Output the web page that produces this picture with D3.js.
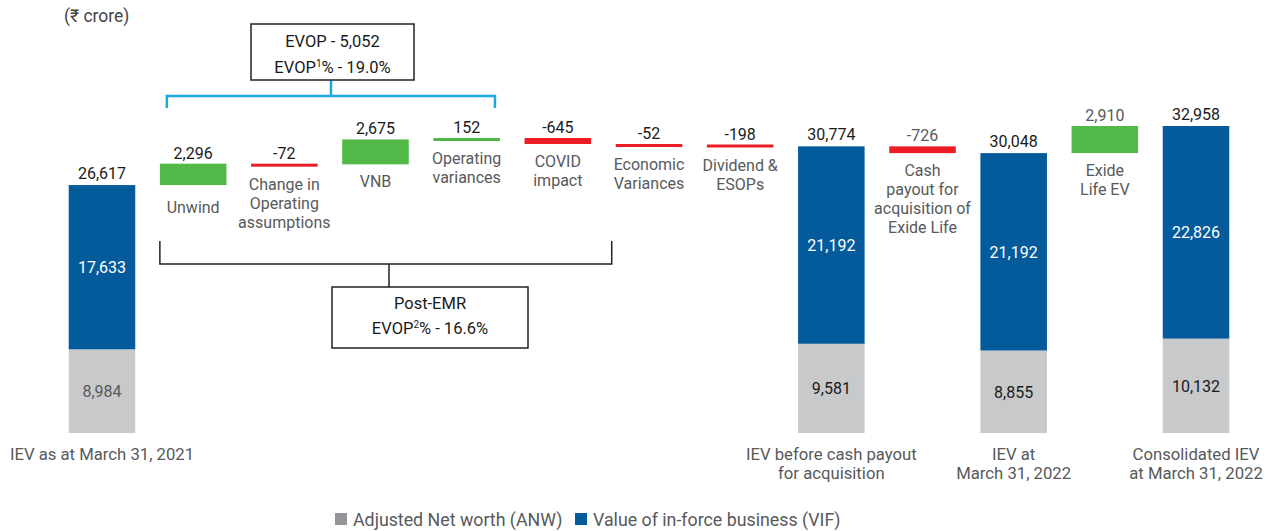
<!DOCTYPE html>
<html>
<head>
<meta charset="utf-8">
<script src="https://cdn.jsdelivr.net/npm/d3@7"></script>
<style>
  html, body { margin: 0; padding: 0; background: #fff; }
  svg { display: block; font-family: Roboto, "Noto Sans", "DejaVu Sans", sans-serif; }
</style>
</head>
<body>
<svg id="chart" width="1274" height="531"></svg>
<script>
// Embedded value walk, ₹ crore
const categories = [
  "IEV as at March 31, 2021", "Unwind", "Change in Operating assumptions", "VNB",
  "Operating variances", "COVID impact", "Economic Variances", "Dividend & ESOPs",
  "IEV before cash payout for acquisition", "Cash payout for acquisition of Exide Life",
  "IEV at March 31, 2022", "Exide Life EV", "Consolidated IEV at March 31, 2022"
];
const labelLines = [
  ["IEV as at March 31, 2021"], ["Unwind"], ["Change in", "Operating", "assumptions"], ["VNB"],
  ["Operating", "variances"], ["COVID", "impact"], ["Economic", "Variances"], ["Dividend &", "ESOPs"],
  ["IEV before cash payout", "for acquisition"], ["Cash", "payout for", "acquisition of", "Exide Life"],
  ["IEV at", "March 31, 2022"], ["Exide", "Life EV"], ["Consolidated IEV", "at March 31, 2022"]
];
// null = total column, number = movement
const changes = [null, 2296, -72, 2675, 152, -645, -52, -198, null, -726, null, 2910, null];
const totalValues = [26617, 30774, 30048, 32958];
const anwValues = [8984, 9581, 8855, 10132];
const vifValues = [17633, 21192, 21192, 22826];
const legendLabels = ["Adjusted Net worth (ANW)", "Value of in-force business (VIF)"];

const C = {
  vif: "#045b9b", anw: "#c8c9cb", up: "#52b848", down: "#ec1c24",
  text: "#1a1a1a", grey: "#58595b", blueBracket: "#1ba9e1", legendAnw: "#939598"
};

const svg = d3.select("#chart");
const x = d3.scaleBand().domain(categories).range([56.4, 1241.6]).paddingInner(0.27).paddingOuter(0.135);
const y = d3.scaleLinear().domain([0, 32958]).range([433, 126]);
const bw = x.bandwidth();

// Build the waterfall steps
let running = 0, ti = 0;
const steps = categories.map((cat, i) => {
  if (changes[i] === null) {
    const t = totalValues[ti], a = anwValues[ti], v = vifValues[ti];
    running = t;
    ti++;
    return { cat, i, total: true, value: t, anw: a, vif: v, tIndex: ti - 1 };
  }
  const start = running, end = running + changes[i];
  running = end;
  return { cat, i, total: false, start, end, change: changes[i] };
});

const fmt = d3.format(",");
const g = svg.append("g");

// Total columns: ANW at the bottom, VIF stacked on top
const totals = steps.filter(d => d.total);
g.selectAll("rect.anw").data(totals).join("rect")
  .attr("x", d => x(d.cat)).attr("width", bw)
  .attr("y", d => y(d.anw)).attr("height", d => y(0) - y(d.anw))
  .attr("fill", C.anw);
g.selectAll("rect.vif").data(totals).join("rect")
  .attr("x", d => x(d.cat)).attr("width", bw)
  .attr("y", d => y(d.value)).attr("height", d => y(d.anw) - y(d.value))
  .attr("fill", C.vif);

// Values inside segments
g.selectAll("text.vifv").data(totals).join("text")
  .attr("x", d => x(d.cat) + bw / 2).attr("y", d => (y(d.value) + y(d.anw)) / 2 + 6)
  .attr("text-anchor", "middle").attr("font-size", 16).attr("fill", "#fff")
  .text(d => fmt(d.vif));
g.selectAll("text.anwv").data(totals).join("text")
  .attr("x", d => x(d.cat) + bw / 2).attr("y", d => (y(d.anw) + y(0)) / 2 + 6)
  .attr("text-anchor", "middle").attr("font-size", 16)
  .attr("fill", d => d.tIndex === 0 ? C.grey : C.text)
  .text(d => fmt(d.anw));
g.selectAll("text.totv").data(totals).join("text")
  .attr("x", d => x(d.cat) + bw / 2).attr("y", d => y(d.value) - 6)
  .attr("text-anchor", "middle").attr("font-size", 16).attr("fill", C.text)
  .text(d => fmt(d.value));

// Floating movement bars
const moves = steps.filter(d => !d.total);
const minH = 3;
const topOf = d => y(Math.max(d.start, d.end));
const hOf = d => Math.max(Math.abs(y(d.start) - y(d.end)), minH);
g.selectAll("rect.move").data(moves).join("rect")
  .attr("x", d => x(d.cat)).attr("width", bw)
  .attr("y", topOf).attr("height", hOf)
  .attr("fill", d => d.change >= 0 ? C.up : C.down);
g.selectAll("text.movev").data(moves).join("text")
  .attr("x", d => x(d.cat) + bw / 2).attr("y", d => topOf(d) - 5)
  .attr("text-anchor", "middle").attr("font-size", 16)
  .attr("fill", d => d.i >= 9 ? C.grey : C.text)
  .text(d => fmt(d.change).replace("−", "-"));

// Category labels: under the floating bars, below the axis for totals
const lh = 19;
steps.forEach(d => {
  const lines = labelLines[d.i];
  const base = d.total ? y(0) + 27 : topOf(d) + hOf(d) + 23 + (d.i === 1 ? 5 : 0);
  const t = g.append("text")
    .attr("x", x(d.cat) + bw / 2).attr("y", base)
    .attr("text-anchor", "middle").attr("font-size", d.total ? 16.7 : 16).attr("fill", C.grey);
  lines.forEach((ln, k) => t.append("tspan").attr("x", x(d.cat) + bw / 2).attr("dy", k === 0 ? 0 : lh).text(ln));
});

// Unit note
g.append("text").attr("x", 64).attr("y", 22).attr("font-size", 17.5).attr("fill", "#444").text("(₹ crore)");

// EVOP bracket (blue) over Unwind … Operating variances
const bl = x("Unwind") + 7, br = x("Operating variances") + bw - 5, byH = 96, bx = 331;
g.append("path")
  .attr("d", `M${bl},108V${byH}H${br}V108M${bx},${byH}V80`)
  .attr("fill", "none").attr("stroke", C.blueBracket).attr("stroke-width", 2.5);
g.append("rect").attr("x", 251).attr("y", 24).attr("width", 163).attr("height", 56)
  .attr("fill", "#fff").attr("stroke", "#222").attr("stroke-width", 1.5);
g.append("text").attr("x", 332.5).attr("y", 47).attr("text-anchor", "middle")
  .attr("font-size", 16.5).attr("fill", C.text).text("EVOP - 5,052");
const e2 = g.append("text").attr("x", 332.5).attr("y", 73).attr("text-anchor", "middle")
  .attr("font-size", 16.5).attr("fill", C.text);
e2.append("tspan").text("EVOP");
e2.append("tspan").attr("font-size", 10).attr("dy", -6).text("1");
e2.append("tspan").attr("dy", 6).text("% - 19.0%");

// Post-EMR bracket (black) under Unwind … Dividend & ESOPs
const kl = x("Unwind"), kr = x("Economic Variances") - 4, ky = 264, kx = 389;
g.append("path")
  .attr("d", `M${kl},241V${ky}H${kr}V241M${kx},${ky}V287`)
  .attr("fill", "none").attr("stroke", "#222").attr("stroke-width", 1.5);
g.append("rect").attr("x", 332).attr("y", 287).attr("width", 196).attr("height", 61)
  .attr("fill", "#fff").attr("stroke", "#222").attr("stroke-width", 1.5);
g.append("text").attr("x", 430).attr("y", 309).attr("text-anchor", "middle")
  .attr("font-size", 16.5).attr("fill", C.text).text("Post-EMR");
const p2 = g.append("text").attr("x", 430).attr("y", 334).attr("text-anchor", "middle")
  .attr("font-size", 16.5).attr("fill", C.text);
p2.append("tspan").text("EVOP");
p2.append("tspan").attr("font-size", 10).attr("dy", -6).text("2");
p2.append("tspan").attr("dy", 6).text("% - 16.6%");

// Legend
const legend = g.append("g");
const items = [
  { label: legendLabels[0], color: C.legendAnw, x: 335 },
  { label: legendLabels[1], color: C.vif, x: 575 }
];
items.forEach(it => {
  legend.append("rect").attr("x", it.x).attr("y", 513).attr("width", 12).attr("height", 12).attr("fill", it.color);
  legend.append("text").attr("x", it.x + 18).attr("y", 525.5).attr("font-size", 17.8).attr("fill", C.grey).text(it.label);
});
</script>
</body>
</html>
